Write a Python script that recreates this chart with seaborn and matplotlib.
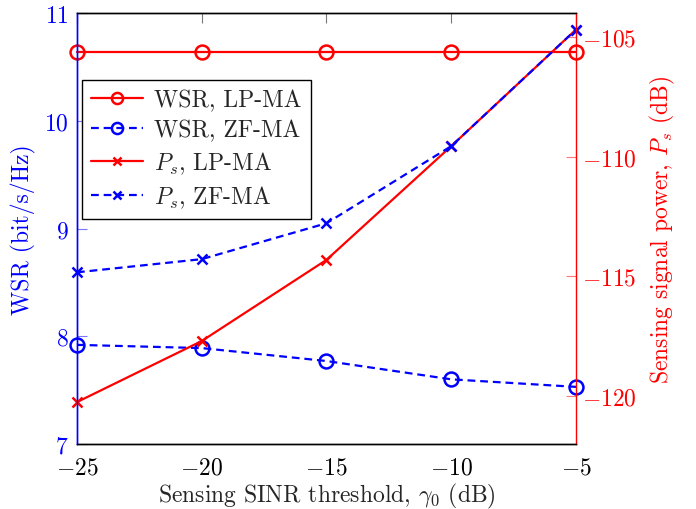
import numpy as np
import pandas as pd
import matplotlib
matplotlib.use("Agg")
import matplotlib.pyplot as plt
import seaborn as sns

# data
gamma0 = [-25, -20, -15, -10, -5]
wsr_lp = [10.64, 10.64, 10.64, 10.64, 10.64]
wsr_zf = [7.92, 7.89, 7.77, 7.60, 7.53]
ps_lp = [-120.25, -117.70, -114.31, -109.56, -104.69]
ps_zf = [-114.83, -114.28, -112.78, -109.56, -104.69]

sns.set_style("white")
plt.rcParams['font.family'] = ['cmr10']
plt.rcParams['mathtext.fontset'] = 'cm'
plt.rcParams['axes.formatter.use_mathtext'] = True
plt.rcParams['axes.unicode_minus'] = True

FS = 17
lw = 1.6
dash = (0, (3.5, 2.2))

fig = plt.figure(figsize=(6.96, 5.10), dpi=100)
ax = fig.add_axes([0.1106, 0.1275, 0.7170, 0.8450])
ax2 = ax.twinx()

df = pd.DataFrame({"gamma0": gamma0, "wsr_lp": wsr_lp, "wsr_zf": wsr_zf,
                   "ps_lp": ps_lp, "ps_zf": ps_zf})

circ = dict(marker='o', markersize=10, markerfacecolor='none', markeredgewidth=1.8)
cross = dict(marker='x', markersize=7, markeredgewidth=1.8)

sns.lineplot(data=df, x="gamma0", y="wsr_lp", ax=ax, color='red', linewidth=lw,
             markeredgecolor='red', label="WSR, LP-MA", legend=False, **circ)
sns.lineplot(data=df, x="gamma0", y="wsr_zf", ax=ax, color='blue', linewidth=lw,
             linestyle=dash, markeredgecolor='blue', label="WSR, ZF-MA", legend=False, **circ)
sns.lineplot(data=df, x="gamma0", y="ps_lp", ax=ax2, color='red', linewidth=lw,
             markeredgecolor='red', label="$P_s$, LP-MA", legend=False, **cross)
sns.lineplot(data=df, x="gamma0", y="ps_zf", ax=ax2, color='blue', linewidth=lw,
             linestyle=dash, markeredgecolor='blue', label="$P_s$, ZF-MA", legend=False, **cross)

for a in (ax, ax2):
    for ln in a.get_lines():
        ln.set_clip_on(False)

ax.set_xlim(-25, -5)
ax.set_ylim(7, 11)
ax2.set_ylim(-122, -104)
ax.set_xticks(gamma0)
ax.set_yticks([7, 8, 9, 10, 11])
ax2.set_yticks([-120, -115, -110, -105])

ax.set_xlabel(r"Sensing SINR threshold, $\gamma_0$ (dB)", fontsize=FS, labelpad=2)
ax.set_ylabel("WSR (bit/s/Hz)", fontsize=FS, color='blue', labelpad=6)
ax2.set_ylabel(r"Sensing signal power, $P_s$ (dB)", fontsize=FS, color='red', labelpad=8)

ax.tick_params(axis='x', direction='in', length=7.5, width=0.8, color='#777777',
               top=True, labelsize=FS, labelcolor='black', pad=9)
ax.tick_params(axis='y', direction='in', length=7.5, width=0.8, color='#7777ff',
               labelsize=FS, labelcolor='blue', left=True, right=False, pad=6)
ax2.tick_params(axis='y', direction='in', length=7.5, width=0.8, color='#ff7777',
                labelsize=FS, labelcolor='red', right=True, left=False, pad=4)
ax2.tick_params(axis='x', top=False, bottom=False)
for t in ax.get_yticklabels():
    t.set_verticalalignment('center_baseline')

for a in (ax, ax2):
    a.spines['top'].set_color('black')
    a.spines['bottom'].set_color('black')
    a.spines['left'].set_color('blue')
    a.spines['right'].set_color('red')
    for s in a.spines.values():
        s.set_linewidth(1.0)
ax.spines['right'].set_visible(False)

h1, l1 = ax.get_legend_handles_labels()
h2, l2 = ax2.get_legend_handles_labels()
leg = ax2.legend(h1 + h2, l1 + l2, loc='upper left', bbox_to_anchor=(0.01, 0.8445),
                 fontsize=FS, frameon=True, fancybox=False, edgecolor='black',
                 framealpha=1, handlelength=2.2, borderpad=0.4, labelspacing=0.32,
                 handletextpad=0.45, borderaxespad=0, markerscale=0.8)
leg.get_frame().set_linewidth(1.0)

fig.savefig("out.png", dpi=100)
